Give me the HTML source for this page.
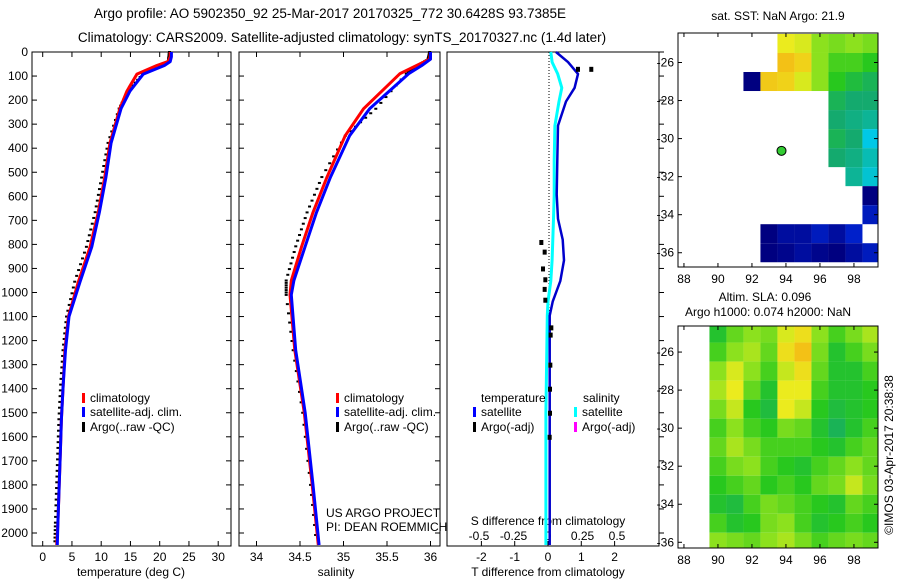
<!DOCTYPE html>
<html><head><meta charset="utf-8"><style>
html,body{margin:0;padding:0;background:#fff}
svg{display:block}
text{font-family:"Liberation Sans",sans-serif;fill:#000}
</style></head><body>
<svg id="chart" width="900" height="580" viewBox="0 0 900 580">
<text x="330" y="18" font-size="13.5" text-anchor="middle">Argo profile: AO 5902350_92 25-Mar-2017 20170325_772 30.6428S 93.7385E</text>
<text x="342" y="42" font-size="13.5" text-anchor="middle">Climatology: CARS2009. Satellite-adjusted climatology: synTS_20170327.nc (1.4d later)</text>
<g id="g"></g>
</svg>
<script>
// ---------- data ----------
const depthT = [0,20,40,56,92,163,235,378,522,666,810,955,1100,1240,1383,1527,1670,1813,1957,2050];
const tempClim = [21.8,21.8,21.4,19.5,16.1,14.4,13.2,11.5,10.6,9.5,8.1,6.1,4.4,3.8,3.5,3.2,3.0,2.8,2.6,2.4];
const tempSat  = [22.0,22.0,21.8,20.8,17.2,14.9,13.4,11.7,10.8,9.7,8.4,6.4,4.5,3.9,3.5,3.2,3.0,2.8,2.6,2.5];
const tempArgo = [22.1,22.0,21.9,20.9,17.5,15.0,13.5,11.6,10.5,9.4,7.9,5.9,4.5,3.9,3.5,3.2,3.0,2.8,2.6,2.5];
const depthS = [0,30,56,90,236,348,520,667,808,950,1010,1240,1500,1800,2050];
const salClim = [36.0,35.99,35.84,35.65,35.23,35.02,34.81,34.65,34.52,34.40,34.385,34.44,34.55,34.64,34.71];
const salSat  = [36.0,36.0,35.9,35.75,35.30,35.07,34.85,34.69,34.56,34.43,34.40,34.45,34.56,34.65,34.72];
const salArgo = [36.02,36.0,35.88,35.75,35.40,35.05,34.78,34.61,34.48,34.37,34.37,34.45,34.56,34.65,34.72];
const depthD = [0,42,91,149,206,306,450,593,694,780,866,952,1038,1096,1500,2050];
const tDiffSat = [0.24,0.6,0.9,0.8,0.54,0.3,0.28,0.26,0.3,0.44,0.48,0.37,0.14,0.05,0.05,0.05];
const sDiffSat = [0.02,0.03,0.07,0.1,0.08,0.05,0.045,0.045,0.04,0.035,0.03,0.02,0.0,-0.005,-0.015,-0.015];
const argoDiffDepth = [70,70,790,830,900,945,985,1030,1145,1175,1300,1400,1500,1600];
const argoDiffT = [0.9,1.3,-0.2,-0.1,-0.15,-0.08,-0.1,-0.08,0.1,0.08,0.07,0.06,0.06,0.05];
const depthTicks = [0,100,200,300,400,500,600,700,800,900,1000,1100,1200,1300,1400,1500,1600,1700,1800,1900,2000];
const tempTicks = [0,5,10,15,20,25,30];
const salTicks = [34,34.5,35,35.5,36];
const salTickLabels = ["34","34.5","35","35.5","36"];
const tdTicks = [-2,-1,0,1,2];
const sdTicks = [-0.5,-0.25,0,0.25,0.5];
const sdTickLabels = ["-0.5","-0.25","0","0.25","0.5"];
// SST map grid (1-degree cells, lon 88..99, lat -25..-36), null = no data, values 0..1
const sstLons = [88,89,90,91,92,93,94,95,96,97,98,99];
const sstLats = [-25,-26,-27,-28,-29,-30,-31,-32,-33,-34,-35,-36];
const sstGrid = [
 [null,null,null,null,null,null,0.72,0.7,0.62,0.6,0.62,0.6],
 [null,null,null,null,null,null,0.82,0.78,0.62,0.55,0.55,0.52],
 [null,null,null,null,0.0,0.8,0.78,0.7,0.62,0.52,0.48,0.45],
 [null,null,null,null,null,null,null,null,null,0.45,0.42,0.42],
 [null,null,null,null,null,null,null,null,null,0.42,0.4,0.38],
 [null,null,null,null,null,null,null,null,null,0.45,0.42,0.3],
 [null,null,null,null,null,null,null,null,null,0.42,0.4,0.35],
 [null,null,null,null,null,null,null,null,null,null,0.38,0.32],
 [null,null,null,null,null,null,null,null,null,null,null,0.0],
 [null,null,null,null,null,null,null,null,null,null,null,0.1],
 [null,null,null,null,null,0.0,0.05,0.05,0.1,0.05,0.12,null],
 [null,null,null,null,null,0.0,0.02,0.05,0.02,0.0,0.05,0.1]];
// SLA map grid (lon 90..99, lat -25..-36)
const slaLons = [90,91,92,93,94,95,96,97,98,99];
const slaLats = [-25,-26,-27,-28,-29,-30,-31,-32,-33,-34,-35,-36];
const slaGrid = [
 [0.5,0.58,0.62,0.6,0.7,0.75,0.62,0.55,0.6,0.65],
 [0.55,0.62,0.65,0.58,0.75,0.82,0.6,0.5,0.55,0.6],
 [0.62,0.7,0.62,0.55,0.68,0.75,0.58,0.5,0.5,0.55],
 [0.65,0.72,0.58,0.5,0.72,0.72,0.55,0.5,0.5,0.52],
 [0.6,0.68,0.52,0.48,0.72,0.68,0.52,0.48,0.5,0.52],
 [0.55,0.62,0.55,0.52,0.6,0.58,0.5,0.45,0.5,0.55],
 [0.58,0.65,0.6,0.55,0.55,0.55,0.52,0.5,0.55,0.58],
 [0.55,0.6,0.62,0.55,0.52,0.5,0.55,0.58,0.62,0.58],
 [0.52,0.55,0.58,0.52,0.55,0.52,0.58,0.6,0.68,0.6],
 [0.5,0.48,0.55,0.6,0.58,0.55,0.52,0.5,0.58,0.55],
 [0.55,0.5,0.52,0.6,0.62,0.55,0.5,0.52,0.55,0.52],
 [0.62,0.6,0.58,0.62,0.65,0.6,0.55,0.58,0.6,0.58]];
const argoLon = 93.7385, argoLat = -30.6428;
const mapLonTicks = [88,90,92,94,96,98];
const mapLatTicks = [-26,-28,-30,-32,-34,-36];

// ---------- helpers ----------
const NS="http://www.w3.org/2000/svg";
const G=document.getElementById('g');
function mk(tag,attrs,parent){const e=document.createElementNS(NS,tag);for(const k in attrs)e.setAttribute(k,attrs[k]);(parent||G).appendChild(e);return e;}
function txt(x,y,s,size,anchor,parent){const t=mk('text',{x:x,y:y,'font-size':size,'text-anchor':anchor||'middle'},parent);t.textContent=s;return t;}
const TOP=52, BOT=546;
const yD = d => TOP + d*0.2405;
const xT = t => 42.7 + t*5.85;
const xS = s => 256.5 + (s-34)*87;
const xTD = t => 548 + t*33.3;
const xSD = s => 548 + s*138;
function color(v){
  const stops=[[0,[0,0,128]],[0.15,[0,40,220]],[0.3,[0,200,230]],[0.42,[20,170,110]],[0.52,[40,200,30]],[0.62,[140,225,30]],[0.72,[235,235,30]],[0.85,[245,180,20]],[1,[240,120,10]]];
  for(let i=1;i<stops.length;i++){if(v<=stops[i][0]){const a=stops[i-1],b=stops[i];const f=(v-a[0])/(b[0]-a[0]);const c=a[1].map((x,j)=>Math.round(x+(b[1][j]-x)*f));return `rgb(${c})`;}}
  return 'rgb(240,120,10)';
}
function frame(x0,x1,name){
  const r=mk('rect',{x:x0,y:TOP,width:x1-x0,height:BOT-TOP,fill:'none',stroke:'#000','stroke-width':1});
  
  
}
function depthTickMarks(x0,x1,leftTicks,rightTicks){
  depthTicks.forEach(d=>{const y=yD(d);
    if(leftTicks) mk('line',{x1:x0,x2:x0+5,y1:y,y2:y,stroke:'#000'});
    if(rightTicks) mk('line',{x1:x1-5,x2:x1,y1:y,y2:y,stroke:'#000'});});
}
function line(xs,ds,color,w,name){
  const pts=xs.map((v,i)=>`${v.toFixed(1)},${yD(ds[i]).toFixed(1)}`).join(' ');
  const p=mk('polyline',{points:pts,fill:'none',stroke:color,'stroke-width':w,'stroke-linejoin':'round'});
  
  
}
function argoMarks(xs,ds,name){
  const g=mk('g',{});
  
  
  for(let i=0;i<xs.length-1;i++){
    for(let k=0;k<6;k++){const f=k/6;const x=xs[i]+(xs[i+1]-xs[i])*f;const d=ds[i]+(ds[i+1]-ds[i])*f;
      mk('line',{x1:x-4,x2:x-1,y1:yD(d),y2:yD(d),stroke:'#000','stroke-width':2},g);}
  }
}
function legendItem(x,y,col,label,name){
  const g=mk('g',{});
  
  
  mk('rect',{x:x,y:y-9,width:3,height:10,fill:col},g);
  txt(x+8,y,label,12,'start',g);
}

// ---------- panel 1: temperature ----------
frame(32,231,'temperature-panel');
depthTickMarks(32,231,true,true);
depthTicks.forEach(d=>{const t=txt(28,yD(d)+4,String(d),12,'end');});
tempTicks.forEach(v=>{const x=xT(v);mk('line',{x1:x,x2:x,y1:TOP,y2:TOP+5,stroke:'#000'});mk('line',{x1:x,x2:x,y1:BOT-5,y2:BOT,stroke:'#000'});
  const t=txt(x,561,String(v),12);});
{const t=txt(131,576,'temperature (deg C)',12);}
argoMarks(tempArgo.map(xT),depthT,'temp-argo-marks');
line(tempClim.map(xT),depthT,'#f00',3,'temp-climatology-line');
line(tempSat.map(xT),depthT,'#00f',3,'temp-satellite-line');
legendItem(82,402,'#f00','climatology','legend-climatology');
legendItem(82,416,'#00f','satellite-adj. clim.','legend-satellite-adj');
legendItem(82,431,'#000','Argo(..raw -QC)','legend-argo-raw');

// ---------- panel 2: salinity ----------
frame(239,440,'salinity-panel');
depthTickMarks(239,440,true,true);
salTicks.forEach((v,i)=>{const x=xS(v);mk('line',{x1:x,x2:x,y1:TOP,y2:TOP+5,stroke:'#000'});mk('line',{x1:x,x2:x,y1:BOT-5,y2:BOT,stroke:'#000'});
  const t=txt(x,561,salTickLabels[i],12);});
{const t=txt(336,576,'salinity',12);}
argoMarks(salArgo.map(xS),depthS,'sal-argo-marks');
line(salClim.map(xS),depthS,'#f00',3,'sal-climatology-line');
line(salSat.map(xS),depthS,'#00f',3,'sal-satellite-line');
legendItem(336,402,'#f00','climatology','legend-sal-climatology');
legendItem(336,416,'#00f','satellite-adj. clim.','legend-sal-satellite-adj');
legendItem(336,431,'#000','Argo(..raw -QC)','legend-sal-argo-raw');
{const t=txt(326,517,'US ARGO PROJECT',12,'start');
 const t2=txt(326,531,'PI: DEAN ROEMMICH',12,'start');}

// ---------- panel 3: differences ----------
frame(447,659,'difference-panel');
depthTicks.forEach(d=>{const y=yD(d);mk('line',{x1:659,x2:664,y1:y,y2:y,stroke:'#000'});});
mk('line',{x1:549,x2:549,y1:TOP,y2:BOT,stroke:'#000','stroke-dasharray':'1,2'});
tdTicks.forEach(v=>{const x=xTD(v);mk('line',{x1:x,x2:x,y1:BOT,y2:BOT-5,stroke:'#000'});
  const t=txt(x,561,String(v),12);});
sdTicks.forEach((v,i)=>{const t=txt(xSD(v),540,sdTickLabels[i],12);});
{const t=txt(548,525,'S difference from climatology',12);
 const t2=txt(548,576,'T difference from climatology',12);}
line(sDiffSat.map(xSD),depthD,'#0ff',3,'s-diff-satellite-line');
line(tDiffSat.map(xTD),depthD,'#00c',2.5,'t-diff-satellite-line');
{const g=mk('g',{});
 argoDiffT.forEach((v,i)=>{mk('rect',{x:xTD(v)-2,y:yD(argoDiffDepth[i])-2,width:4,height:5,fill:'#000'},g);});}
{const t=txt(481,402,'temperature',12,'start');
 const t2=txt(583,402,'salinity',12,'start');}
legendItem(473,416,'#00f','satellite','legend-t-satellite');
legendItem(473,431,'#000','Argo(-adj)','legend-t-argo');
legendItem(574,416,'#0ff','satellite','legend-s-satellite');
legendItem(574,431,'#f0f','Argo(-adj)','legend-s-argo');

// ---------- maps ----------
const mx = lon => 678 + (lon-87.65)*17;
function drawMap(y0,y1,latTop,latBot,lons,lats,grid,name){
  const my = lat => y0 + (latTop-lat)*(y1-y0)/(latTop-latBot);
  const g=mk('g',{});
  
  
  grid.forEach((row,j)=>row.forEach((v,i)=>{ if(v===null) return;
    const xa=Math.max(678,mx(lons[i]-0.5)), xb=Math.min(878,mx(lons[i]+0.5));
    const ya=Math.max(y0,my(lats[j]+0.5)), yb=Math.min(y1,my(lats[j]-0.5));
    mk('rect',{x:xa,y:ya,width:xb-xa,height:yb-ya,fill:color(v)},g);}));
  mk('rect',{x:678,y:y0,width:200,height:y1-y0,fill:'none',stroke:'#000'},g);
  mapLonTicks.forEach(l=>{const x=mx(l);mk('line',{x1:x,x2:x,y1:y1,y2:y1-4,stroke:'#000'},g);mk('line',{x1:x,x2:x,y1:y0,y2:y0+4,stroke:'#000'},g);
    const t=txt(x,y1+16,String(l),12,'middle',g);});
  mapLatTicks.forEach(l=>{const y=my(l);mk('line',{x1:678,x2:682,y1:y,y2:y,stroke:'#000'},g);mk('line',{x1:874,x2:878,y1:y,y2:y,stroke:'#000'},g);
    const t=txt(674,y+4,String(l),12,'end',g);});
  return my;
}
const my1=drawMap(33,267,-24.45,-36.75,sstLons,sstLats,sstGrid,'sst-map');
{const c=mk('circle',{cx:mx(argoLon),cy:my1(argoLat),r:4.5,fill:'#3c3',stroke:'#000','stroke-width':1});}
{const t=txt(778,20,'sat. SST: NaN Argo: 21.9',12);}
drawMap(326,548,-24.63,-36.3,slaLons,slaLats,slaGrid,'sla-map');
{const t=txt(765,301,'Altim. SLA: 0.096',12);
 const t2=txt(768,316,'Argo h1000: 0.074 h2000: NaN',12);}
{const t=txt(0,0,'©IMOS 03-Apr-2017 20:38:38',12);t.setAttribute('transform','translate(893,455) rotate(-90)');}
</script>
</body></html>
